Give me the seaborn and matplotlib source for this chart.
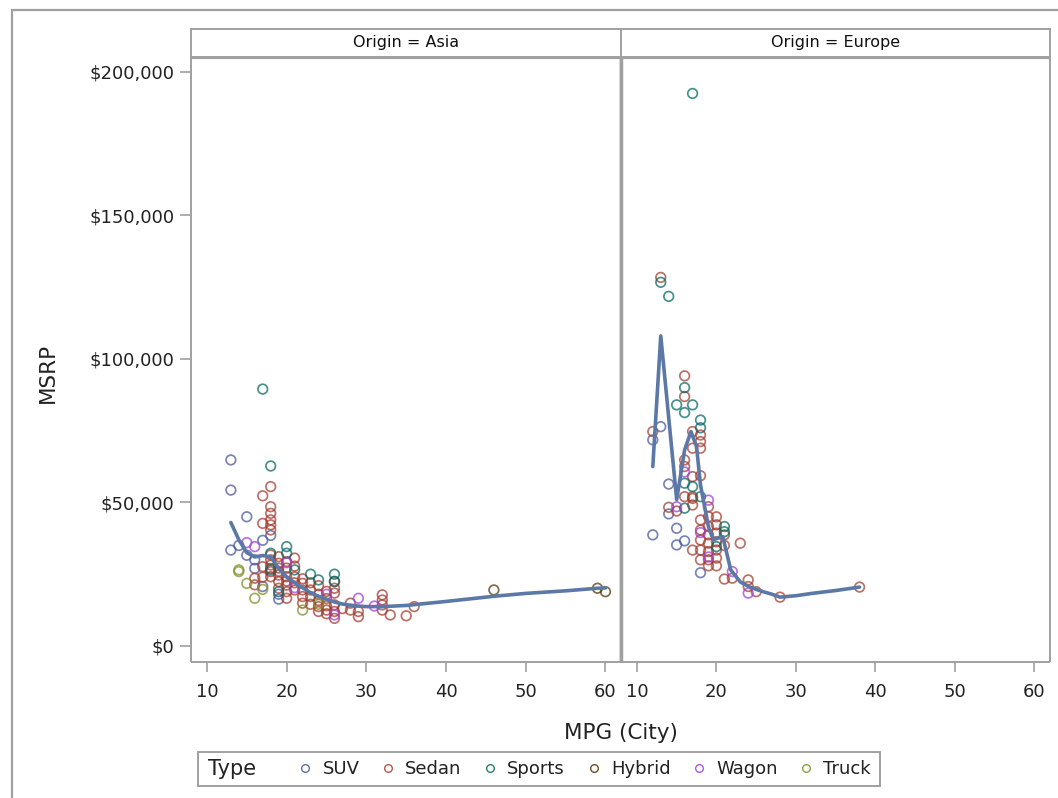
import matplotlib
matplotlib.use("Agg")
import matplotlib.pyplot as plt
from matplotlib.patches import Rectangle
from matplotlib.lines import Line2D
from matplotlib.ticker import FuncFormatter
import seaborn as sns
import pandas as pd

# ---------------- data ----------------
types = ["SUV", "Sedan", "Sports", "Hybrid", "Wagon", "Truck"]
type_colors = ["#445694", "#A23A2E", "#01665E", "#543005", "#9D3CDB", "#7F8E1F"]

# Asia
asia_suv_mpg = [13, 13, 13, 14, 15, 15, 16, 16, 17, 17, 18, 19, 19]
asia_suv_msrp = [64800, 54300, 33400, 35000, 45000, 31600, 30000, 27000, 36800, 20700, 38500, 16300, 18000]
asia_sedan_mpg = [17, 18, 18, 18, 18, 18, 18, 17, 18, 18, 18, 18, 18, 16, 16, 17, 17,
                  19, 19, 19, 19, 19, 19, 20, 20, 20, 20, 20, 20, 21, 21, 21, 21,
                  22, 22, 22, 22, 23, 23, 23, 23, 24, 24, 24, 24, 25, 25, 25, 25,
                  26, 26, 26, 26, 26, 26, 27, 28, 28, 29, 29, 32, 32, 32, 32, 33, 35, 36,
                  18, 19, 20, 21, 22, 24, 25]
asia_sedan_msrp = [52300, 55500, 48500, 46200, 43900, 42200, 40400, 42700, 31700, 30000, 28200, 25900, 24100, 23600, 21300, 27600, 24000,
                   31100, 28800, 27100, 24700, 22400, 20100, 29400, 27100, 24100, 21200, 18900, 16600, 30600, 24100, 19500, 22000,
                   21800, 19500, 17200, 14900, 22000, 19500, 17200, 14500, 21000, 18000, 13700, 12000, 19000, 16500, 14000, 12500,
                   22400, 20100, 18400, 14300, 12000, 9600, 13000, 14900, 12500, 12000, 10200, 17800, 16000, 14300, 12500, 10800, 10500, 13700,
                   27000, 26000, 22600, 27800, 23400, 15800, 11200]
asia_sports_mpg = [17, 18, 18, 18, 19, 20, 20, 21, 23, 24, 26, 26]
asia_sports_msrp = [89500, 62700, 32300, 26500, 18900, 34600, 32300, 26500, 25000, 23000, 25000, 22500]
asia_hybrid_mpg = [46, 59, 60]
asia_hybrid_msrp = [19500, 20100, 18900]
asia_wagon_mpg = [15, 16, 20, 21, 25, 26, 29, 31]
asia_wagon_msrp = [36000, 34600, 29000, 20300, 18000, 10800, 16600, 13900]
asia_truck_mpg = [14, 14, 15, 16, 17, 22, 24]
asia_truck_msrp = [26500, 25900, 21800, 16600, 19700, 12500, 14500]

# Europe
eur_suv_mpg = [12, 12, 13, 14, 14, 15, 15, 16, 18]
eur_suv_msrp = [71800, 38700, 76400, 56400, 46000, 41000, 35200, 36600, 25500]
eur_sedan_mpg = [13, 12, 16, 16, 17, 18, 18, 18, 17, 16, 16, 17, 18, 16, 17, 17, 17, 14, 15,
                 18, 18, 18, 18, 18, 19, 19, 19, 19, 19, 19, 19, 19,
                 20, 20, 20, 20, 20, 20, 20, 21, 21, 17, 23, 21, 22, 24, 24, 25, 28, 38]
eur_sedan_msrp = [128400, 74700, 94100, 86900, 74700, 73500, 71200, 68900, 68900, 64800, 62500, 59000, 59300, 52000, 52000, 51400, 49100, 48300, 47000,
                  43900, 40400, 36900, 33400, 30000, 48500, 45000, 41600, 38700, 35800, 32900, 30000, 27900,
                  45000, 42200, 39300, 36300, 33400, 30600, 27900, 38700, 35000, 33400, 35800, 23300, 23600, 23000, 20700, 18900, 17000, 20500]
eur_sports_mpg = [17, 13, 14, 16, 15, 17, 16, 18, 18, 16, 16, 17, 18, 21, 21, 20]
eur_sports_msrp = [192500, 126700, 121800, 90000, 84000, 84000, 81300, 78700, 76000, 56700, 48000, 55500, 52000, 41600, 39800, 34600]
eur_wagon_mpg = [16, 15, 19, 18, 19, 22, 24]
eur_wagon_msrp = [60600, 48500, 50800, 39500, 31000, 25900, 18400]

# LOESS fit curves
asia_fit_mpg = [13, 14, 15, 16, 17, 18, 19, 20, 21, 22, 23, 24, 25, 26, 27, 28, 29, 30, 31, 32, 35, 40, 46, 50, 55, 59, 60]
asia_fit_msrp = [43000, 37000, 32500, 31000, 31500, 31000, 27000, 24000, 22000, 20300, 18500, 17300, 16300, 15300, 14600, 14200,
                 13900, 13700, 13700, 13700, 14100, 15500, 17300, 18300, 19200, 20100, 20200]
eur_fit_mpg = [12, 13, 14, 15, 16, 16.8, 17.5, 18, 19, 19.6, 20.8, 21.8, 23, 24, 25, 26, 27, 28, 30, 32, 35, 38]
eur_fit_msrp = [62500, 108000, 79500, 51000, 68300, 74700, 69400, 56000, 41500, 37000, 38100, 26500, 22300, 20800, 19700, 18800,
                18000, 17000, 17500, 18300, 19300, 20500]

x_ticks = [10, 20, 30, 40, 50, 60]
y_ticks = [0, 50000, 100000, 150000, 200000]
panels = ["Asia", "Europe"]


def frame(mpg_lists, msrp_lists, type_names):
    rows = []
    for m, p, t in zip(mpg_lists, msrp_lists, type_names):
        rows.append(pd.DataFrame({"mpg": m, "msrp": p, "Type": t}))
    return pd.concat(rows, ignore_index=True)


asia_df = frame([asia_suv_mpg, asia_sedan_mpg, asia_sports_mpg, asia_hybrid_mpg, asia_wagon_mpg, asia_truck_mpg],
                [asia_suv_msrp, asia_sedan_msrp, asia_sports_msrp, asia_hybrid_msrp, asia_wagon_msrp, asia_truck_msrp],
                ["SUV", "Sedan", "Sports", "Hybrid", "Wagon", "Truck"])
eur_df = frame([eur_suv_mpg, eur_sedan_mpg, eur_sports_mpg, eur_wagon_mpg],
               [eur_suv_msrp, eur_sedan_msrp, eur_sports_msrp, eur_wagon_msrp],
               ["SUV", "Sedan", "Sports", "Wagon"])
fits = [(asia_fit_mpg, asia_fit_msrp), (eur_fit_mpg, eur_fit_msrp)]

# ---------------- drawing ----------------
sns.set_theme(style="white")
plt.rcParams["font.family"] = ["DejaVu Sans"]
W, H = 1058, 798
fig = plt.figure(figsize=(W / 100, H / 100), dpi=100)
palette = dict(zip(types, type_colors))
grey = "#a0a0a0"

def fx(px):
    return px / W

def fy(py):
    return 1 - py / H

bottom, top = 662, 57
panel_x = [(191, 621), (621, 1050)]

for i, (df, name) in enumerate(zip([asia_df, eur_df], panels)):
    x0, x1 = panel_x[i]
    ax = fig.add_axes([fx(x0), fy(bottom), (x1 - x0) / W, (bottom - top) / H])
    sns.scatterplot(data=df, x="mpg", y="msrp", hue="Type", palette=palette, ax=ax,
                    marker="o", s=48, linewidth=1.25, alpha=0.72, legend=False, zorder=2)
    coll = ax.collections[-1]
    fc = coll.get_facecolors()
    coll.set_edgecolors(fc)
    coll.set_facecolors("none")
    sns.lineplot(x=fits[i][0], y=fits[i][1], ax=ax, color="#5B78A6", lw=2.6, zorder=3)
    ax.set_xlim(8.0, 61.95)
    ax.set_ylim(-5600, 205200)
    ax.set_xticks(x_ticks)
    ax.set_yticks(y_ticks)
    ax.set_xlabel("")
    ax.set_ylabel("")
    ax.tick_params(axis="x", direction="out", length=7, width=1.2, color=grey, labelsize=13, pad=8,
                   bottom=True, labelcolor="#222222")
    if i == 0:
        ax.tick_params(axis="y", direction="out", length=8, width=1.2, color=grey, labelsize=13, pad=4,
                       left=True, labelcolor="#222222")
        ax.yaxis.set_major_formatter(FuncFormatter(lambda v, p: "${:,.0f}".format(v)))
    else:
        ax.tick_params(axis="y", left=False, labelleft=False)
    for s in ax.spines.values():
        s.set_color(grey)
        s.set_linewidth(1.4)
        s.set_capstyle("butt")
    ax.spines["top"].set_linewidth(3)
    if i == 0:
        ax.spines["right"].set_linewidth(2.5)
    else:
        ax.spines["left"].set_linewidth(2.5)
    ax.grid(False)
    # strip header
    sax = fig.add_axes([fx(x0), fy(top), (x1 - x0) / W, (top - 29) / H])
    sax.set_xticks([])
    sax.set_yticks([])
    for s in sax.spines.values():
        s.set_color(grey)
        s.set_linewidth(1.4)
    sax.text(0.5, 0.5, "Origin = " + name, ha="center", va="center", fontsize=11.5, color="#111111",
             transform=sax.transAxes)

# axis labels
fig.text(fx(48), fy(373), "MSRP", rotation=90, ha="center", va="center", fontsize=15.5, color="#222222")
fig.text(fx(621), fy(733), "MPG (City)", ha="center", va="center", fontsize=15.5, color="#222222")

# legend
handles = [Line2D([], [], linestyle="none", marker="o", markersize=5.5, markerfacecolor="none",
                  markeredgecolor=c, markeredgewidth=1.0, alpha=0.85) for c in type_colors]
fig.legend(handles, types, loc="center left", bbox_to_anchor=(fx(282), fy(769)), ncol=6, frameon=False,
           fontsize=13, handletextpad=0.35, columnspacing=0.98, handlelength=1.2, borderpad=0.2,
           labelcolor="#222222")
fig.text(fx(208), fy(769), "Type", ha="left", va="center", fontsize=15, color="#222222")
fig.add_artist(Rectangle((fx(198), fy(786)), (880 - 198) / W, (786 - 752) / H, transform=fig.transFigure,
                         fill=False, edgecolor=grey, lw=1.4))
# outer border
fig.add_artist(Rectangle((fx(12), -0.1), 1.2, fy(10) + 0.1, transform=fig.transFigure,
                         fill=False, edgecolor=grey, lw=1.6))

fig.savefig("out.png", dpi=100)
